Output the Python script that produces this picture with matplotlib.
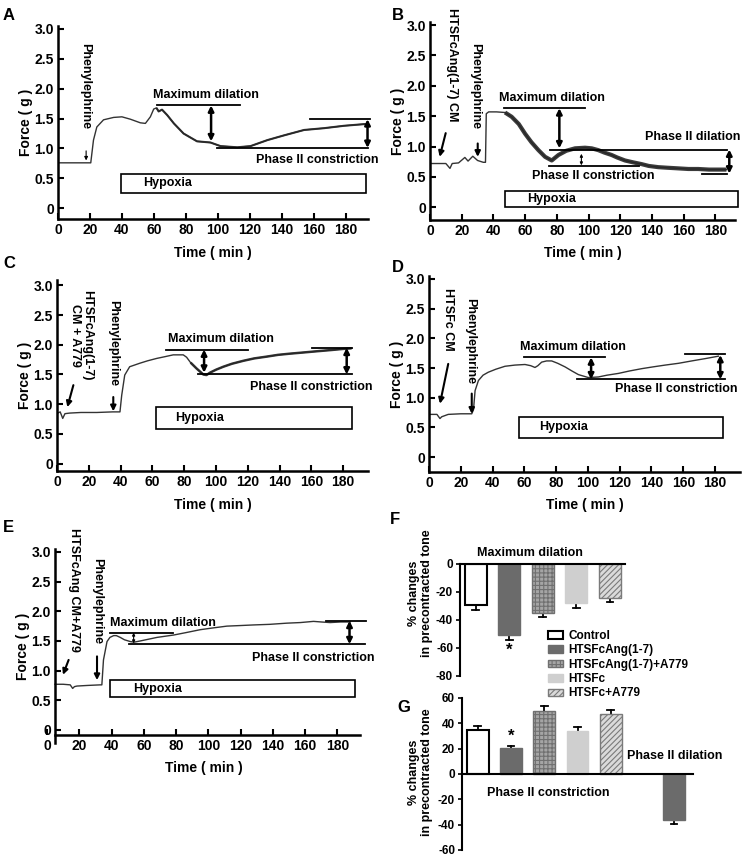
import matplotlib
matplotlib.use('Agg')
import matplotlib.pyplot as plt
import numpy as np
from matplotlib.patches import Rectangle, Patch

plt.rcParams['font.family'] = ['Liberation Sans', 'DejaVu Sans']
plt.rcParams['font.weight'] = 'bold'
plt.rcParams['axes.unicode_minus'] = False
plt.rcParams['hatch.linewidth'] = 0.8

# ---- isometric force traces (time in min, force in g) ----
a_time = [0, 20.5, 22.2, 24.3, 28.5, 34.8, 40, 45.3, 51.5, 54.7, 57.8, 59.9, 61.6, 63, 65.1,
          68.3, 72.5, 78.6, 87, 95.4, 101.7, 112.2, 120.5, 131, 141.5, 154, 166.5, 179, 192.6]
a_force = [0.76, 0.76, 1.14, 1.36, 1.48, 1.52, 1.53, 1.49, 1.43, 1.42, 1.53, 1.66, 1.68, 1.62, 1.65,
           1.56, 1.42, 1.25, 1.12, 1.10, 1.04, 1.02, 1.04, 1.14, 1.22, 1.31, 1.34, 1.38, 1.41]

b_time = [0, 10, 12.6, 14, 18, 22, 24, 27, 30, 33.6, 35, 35.5, 37, 42, 47.3, 51.5, 56, 60, 64,
          68.4, 72.6, 76.8, 81, 86, 91.5, 97.8, 102, 106.2, 110, 114.6, 118, 123, 128, 133.5,
          138, 144, 150, 156.6, 163, 169.2, 176, 182, 187]
b_force = [0.72, 0.72, 0.64, 0.72, 0.73, 0.82, 0.76, 0.84, 0.77, 0.74, 0.74, 1.54, 1.57, 1.57,
           1.56, 1.49, 1.37, 1.21, 1.07, 0.94, 0.83, 0.77, 0.86, 0.93, 0.97, 0.98, 0.97, 0.94,
           0.90, 0.86, 0.82, 0.77, 0.74, 0.71, 0.68, 0.66, 0.65, 0.64, 0.63, 0.63, 0.62, 0.62, 0.62]

c_time = [0.5, 2, 3.6, 5, 8, 15, 25, 35, 39.6, 40.7, 42.6, 45.7, 52.2, 57, 62.7, 68, 73.1, 79.4,
          81.5, 84, 87.8, 92, 94, 96.2, 100, 104.6, 110, 117.2, 124, 131.8, 139, 146.5, 155,
          163.3, 172, 180, 185.3]
c_force = [0.85, 0.87, 0.76, 0.84, 0.85, 0.86, 0.86, 0.87, 0.87, 1.15, 1.49, 1.63, 1.69, 1.73,
           1.77, 1.80, 1.83, 1.83, 1.79, 1.70, 1.60, 1.50, 1.49, 1.53, 1.58, 1.63, 1.68, 1.73,
           1.77, 1.80, 1.83, 1.85, 1.87, 1.89, 1.91, 1.93, 1.94]

d_time = [0, 5, 6.9, 8, 12.1, 20, 26.9, 28, 29, 31.1, 34, 37.3, 42, 47.8, 54, 60.4, 64, 66.7,
          68.5, 70.9, 74, 77.2, 81, 85.6, 90, 94, 100.3, 106.6, 112, 119.2, 126, 133.9, 141,
          148.6, 157, 165.3, 174, 182.1]
d_force = [0.72, 0.72, 0.65, 0.68, 0.72, 0.73, 0.73, 0.80, 1.12, 1.29, 1.38, 1.43, 1.48, 1.53,
           1.55, 1.56, 1.54, 1.51, 1.54, 1.60, 1.62, 1.62, 1.58, 1.52, 1.45, 1.39, 1.34, 1.35,
           1.38, 1.41, 1.45, 1.49, 1.52, 1.55, 1.58, 1.62, 1.66, 1.70]

e_time = [5, 10, 14.4, 15.9, 17, 18.6, 25, 33, 34, 35, 37.2, 39, 41.3, 43, 45.4, 48, 51.6, 54,
          57.8, 63, 68.2, 78.5, 86, 95, 103, 111.5, 120, 128, 138, 148.7, 157, 165.2, 170,
          175.5, 182, 188]
e_force = [0.77, 0.77, 0.76, 0.70, 0.73, 0.74, 0.75, 0.76, 0.76, 1.18, 1.49, 1.56, 1.59, 1.59,
           1.56, 1.52, 1.49, 1.48, 1.50, 1.53, 1.56, 1.60, 1.64, 1.69, 1.72, 1.75, 1.76, 1.77,
           1.78, 1.80, 1.81, 1.83, 1.82, 1.81, 1.82, 1.82]

force_ticks = [0, 0.5, 1.0, 1.5, 2.0, 2.5, 3.0]
force_labels = ['0', '0.5', '1.0', '1.5', '2.0', '2.5', '3.0']
time_ticks = [0, 20, 40, 60, 80, 100, 120, 140, 160, 180]

# ---- bar charts ----
groups = ['Control', 'HTSFcAng(1-7)', 'HTSFcAng(1-7)+A779', 'HTSFc', 'HTSFc+A779']
maxdil_mean = [-29.6, -50.5, -35.0, -27.9, -24.0]
maxdil_sem = [3.1, 3.8, 3.0, 3.6, 3.4]
phase2_mean = [34.5, 20.5, 50.0, 33.7, 47.4]
phase2_sem = [3.1, 1.9, 3.4, 3.1, 2.9]
phase2_dil_mean = [-36.0]
phase2_dil_sem = [3.5]

bar_face = ['white', '#6b6b6b', '#a5a5a5', '#cfcfcf', '#dadada']
bar_edge = ['black', '#6b6b6b', '#707070', '#cfcfcf', '#7a7a7a']
bar_hatch = [None, None, '++++', None, '//////']

W, H = 744, 856
fig = plt.figure(figsize=(W / 100, H / 100), dpi=100)


def px_axes(left, top, right, bottom):
    return fig.add_axes([left / W, 1 - bottom / H, (right - left) / W, (bottom - top) / H])


def letter(x, y, s):
    fig.text(x / W, 1 - y / H, s, fontsize=12, fontweight='bold', ha='left', va='center')


def trace_panel(box, xlim, ylim, time, force, noisy_from, noisy_lw):
    ax = px_axes(*box)
    ax.patch.set_alpha(0)
    t = np.array(time)
    f = np.array(force)
    ax.plot(t, f, color='#333333', lw=1.0)
    m = t >= noisy_from
    ax.plot(t[m], f[m], color='#262626', lw=noisy_lw, alpha=0.9, solid_capstyle='butt')
    ax.set_xlim(*xlim)
    ax.set_ylim(*ylim)
    for s in ['top', 'right']:
        ax.spines[s].set_visible(False)
    for s in ['left', 'bottom']:
        ax.spines[s].set_linewidth(1.8)
    ax.set_xticks(time_ticks)
    ax.set_yticks(force_ticks)
    ax.set_yticklabels(force_labels)
    ax.tick_params(direction='in', length=4, width=1.5, labelsize=10, pad=3)
    ax.set_xlabel('Time ( min )', fontsize=10, fontweight='bold', labelpad=6)
    ax.set_ylabel('Force ( g )', fontsize=10, fontweight='bold', labelpad=1)
    return ax


def hline(ax, x0, x1, y, lw=1.3):
    ax.plot([x0, x1], [y, y], color='k', lw=lw, clip_on=False)


def darrow(ax, x, y0, y1, lw=1.8, ms=8):
    ax.annotate('', xy=(x, y1), xytext=(x, y0), annotation_clip=False,
                arrowprops=dict(arrowstyle='<|-|>', lw=lw, color='k', mutation_scale=ms,
                                shrinkA=0, shrinkB=0))


def arrow(ax, x0, y0, x1, y1, lw=1.5, ms=8):
    ax.annotate('', xy=(x1, y1), xytext=(x0, y0), annotation_clip=False,
                arrowprops=dict(arrowstyle='-|>', lw=lw, color='k', mutation_scale=ms,
                                shrinkA=0, shrinkB=0))


def note(ax, x, y, s, ha='left'):
    ax.text(x, y, s, fontsize=9, fontweight='bold', ha=ha, va='center', clip_on=False)


def vnote(ax, x, y, s):
    ax.text(x, y, s, fontsize=9, fontweight='bold', ha='center', va='top', rotation=-90,
            multialignment='center', linespacing=1.0, clip_on=False)


def hypoxia(ax, x0, x1, y0, y1, tx):
    ax.add_patch(Rectangle((x0, y0), x1 - x0, y1 - y0, facecolor='white', edgecolor='k',
                           lw=1.2, clip_on=False))
    note(ax, tx, (y0 + y1) / 2, 'Hypoxia')


# ---- A ----
ax = trace_panel((58, 26, 368, 219), (0, 194), (-0.18, 3.05), a_time, a_force, 60, 1.5)
vnote(ax, 16.9, 2.77, 'Phenylephrine')
arrow(ax, 17.6, 0.96, 17.6, 0.80, lw=0.8, ms=5)
note(ax, 92.8, 1.90, 'Maximum dilation', ha='center')
hline(ax, 62, 114, 1.72)
darrow(ax, 95.8, 1.72, 1.12)
hline(ax, 99.5, 194, 1.01)
hline(ax, 158, 195.5, 1.49)
darrow(ax, 193.7, 1.49, 1.01)
note(ax, 123.6, 0.805, 'Phase II constriction')
hypoxia(ax, 39.3, 192.6, 0.257, 0.58, 53.5)
letter(3, 15, 'A')

# ---- B ----
ax = trace_panel((430, 22, 735, 220), (0, 192.4), (-0.21, 3.05), b_time, b_force, 45, 3.0)
vnote(ax, 13.9, 3.28, 'HTSFcAng(1-7) CM')
arrow(ax, 9.9, 1.22, 6.1, 0.83)
vnote(ax, 28.4, 2.70, 'Phenylephrine')
arrow(ax, 30.1, 1.05, 30.1, 0.83)
note(ax, 77, 1.80, 'Maximum dilation', ha='center')
hline(ax, 46.7, 97.8, 1.63)
darrow(ax, 81.6, 1.63, 0.97)
hline(ax, 75.7, 187.4, 0.95)
hline(ax, 171.6, 187.4, 0.555)
darrow(ax, 188.8, 0.95, 0.555)
note(ax, 135.6, 1.15, 'Phase II dilation')
hline(ax, 74.9, 131.7, 0.675)
darrow(ax, 95.5, 0.88, 0.69, lw=0.8, ms=4)
note(ax, 64.4, 0.51, 'Phase II constriction')
hypoxia(ax, 47.5, 194, 0.0, 0.27, 61)
letter(392, 15, 'B')

# ---- C ----
ax = trace_panel((57, 280, 368, 471), (0, 195.6), (-0.125, 3.09), c_time, c_force, 82, 1.8)
vnote(ax, 15.4, 2.92, 'HTSFcAng(1-7)\nCM + A779')
arrow(ax, 10.3, 1.32, 6.5, 0.95)
vnote(ax, 35.2, 2.75, 'Phenylephrine')
arrow(ax, 35.4, 1.12, 35.4, 0.88)
note(ax, 102.8, 2.10, 'Maximum dilation', ha='center')
hline(ax, 68.4, 120.3, 1.92)
darrow(ax, 92.5, 1.92, 1.53)
hline(ax, 88.7, 185.3, 1.50)
hline(ax, 160.2, 185.3, 1.95)
darrow(ax, 182.2, 1.95, 1.50)
note(ax, 121.4, 1.29, 'Phase II constriction')
hypoxia(ax, 62, 185.7, 0.59, 0.955, 74.6)
letter(3, 263, 'C')

# ---- D ----
ax = trace_panel((429, 276, 740, 472), (0, 195.7), (-0.25, 3.05), d_time, d_force, 200, 1.0)
vnote(ax, 12, 2.85, 'HTSFc CM')
arrow(ax, 12.1, 1.57, 6.9, 0.90)
vnote(ax, 25.8, 2.68, 'Phenylephrine')
arrow(ax, 26.9, 1.07, 26.9, 0.73)
note(ax, 90.3, 1.855, 'Maximum dilation', ha='center')
hline(ax, 59.6, 111, 1.68)
darrow(ax, 102, 1.68, 1.31)
hline(ax, 93.1, 186.1, 1.31)
hline(ax, 161.3, 186.5, 1.73)
darrow(ax, 183.3, 1.72, 1.31)
note(ax, 117.2, 1.15, 'Phase II constriction')
hypoxia(ax, 56.5, 185.2, 0.327, 0.675, 69)
letter(392, 267, 'D')

# ---- E ----
ax = trace_panel((47, 549, 360, 743), (0, 194), (-0.22, 3.05), e_time, e_force, 200, 1.0)
ax.spines['left'].set_position(('data', 5))
ax.spines['bottom'].set_position(('data', -0.08))
ax.spines['bottom'].set_bounds(5, 194)
vnote(ax, 16.9, 3.41, 'HTSFcAng CM+A779')
arrow(ax, 13.4, 1.18, 9.9, 0.93)
vnote(ax, 31, 2.9, 'Phenylephrine')
arrow(ax, 31, 1.24, 31, 0.84)
note(ax, 38.8, 1.80, 'Maximum dilation')
hline(ax, 38.8, 78.4, 1.64)
darrow(ax, 53.7, 1.64, 1.46, lw=0.8, ms=4)
hline(ax, 50.6, 197, 1.445)
hline(ax, 173, 197.8, 1.84)
darrow(ax, 187.5, 1.84, 1.445)
note(ax, 127, 1.21, 'Phase II constriction')
hypoxia(ax, 39.2, 190.6, 0.55, 0.843, 53.3)
letter(3, 528, 'E')


# ---- F / G bars ----
def bars(ax, xs, means, sems, styles):
    for x, mval, sem, k in zip(xs, means, sems, styles):
        end = mval + sem if mval > 0 else mval - sem
        ax.plot([x, x], [mval, end], color='k', lw=1.3, zorder=1)
        ax.plot([x - 0.1, x + 0.1], [end, end], color='k', lw=1.3, zorder=1)
        ax.bar(x, mval, width=0.66, facecolor=bar_face[k], edgecolor=bar_edge[k],
               hatch=bar_hatch[k], lw=1.5 if k == 0 else 1.0, zorder=2)


def bar_axes(ax, yticks, ylabel_xy):
    ax.patch.set_alpha(0)
    ax.set_yticks(yticks)
    ax.set_yticklabels([str(v) for v in yticks])
    ax.set_xticks([])
    ax.tick_params(axis='y', direction='out', length=3, width=1.2, labelsize=8.5, pad=2)
    ax.spines['right'].set_visible(False)
    ax.spines['left'].set_linewidth(1.5)
    ax.set_ylabel('% changes\nin precontracted tone', fontsize=9, fontweight='bold',
                  linespacing=1.05)
    ax.yaxis.set_label_coords(*ylabel_xy)


axf = px_axes(460, 564, 625, 676)
bars(axf, range(5), maxdil_mean, maxdil_sem, range(5))
axf.set_xlim(-0.47, 4.45)
axf.set_ylim(-80, 0)
bar_axes(axf, [0, -20, -40, -60, -80], (-0.165, 0.74))
axf.spines['bottom'].set_visible(False)
axf.spines['top'].set_linewidth(1.5)
axf.text(1, -56, '*', fontsize=12, fontweight='bold', ha='center', va='top')
fig.text(530 / W, 1 - 553 / H, 'Maximum dilation', fontsize=9, fontweight='bold',
         ha='center', va='center')
letter(390, 520, 'F')

handles = [Patch(facecolor=bar_face[k], edgecolor=bar_edge[k], hatch=bar_hatch[k],
                 lw=1.5 if k == 0 else 1.0) for k in range(5)]
fig.legend(handles, groups, loc='upper left', bbox_to_anchor=(548 / W, 1 - 630 / H),
           bbox_transform=fig.transFigure, frameon=False, fontsize=8.5, borderpad=0,
           handlelength=1.27, handleheight=0.6, handletextpad=0.45, labelspacing=0.2,
           borderaxespad=0)

axg = px_axes(462, 698, 693, 850)
bars(axg, range(5), phase2_mean, phase2_sem, range(5))
bars(axg, [5.9], phase2_dil_mean, phase2_dil_sem, [1])
axg.set_xlim(-0.47, 6.47)
axg.set_ylim(-60, 60)
bar_axes(axg, [60, 40, 20, 0, -20, -40, -60], (-0.126, 0.51))
axg.spines['top'].set_visible(False)
axg.spines['bottom'].set_position(('data', 0))
axg.spines['bottom'].set_linewidth(1.5)
axg.text(1, 30, '*', fontsize=12, fontweight='bold', ha='center', va='center')
axg.text(4.49, 14.2, 'Phase II dilation', fontsize=9, fontweight='bold', ha='left',
         va='center', clip_on=False)
axg.text(2.12, -15, 'Phase II constriction', fontsize=9, fontweight='bold', ha='center',
         va='center')
letter(397, 707, 'G')

fig.savefig('out.png', dpi=100)
